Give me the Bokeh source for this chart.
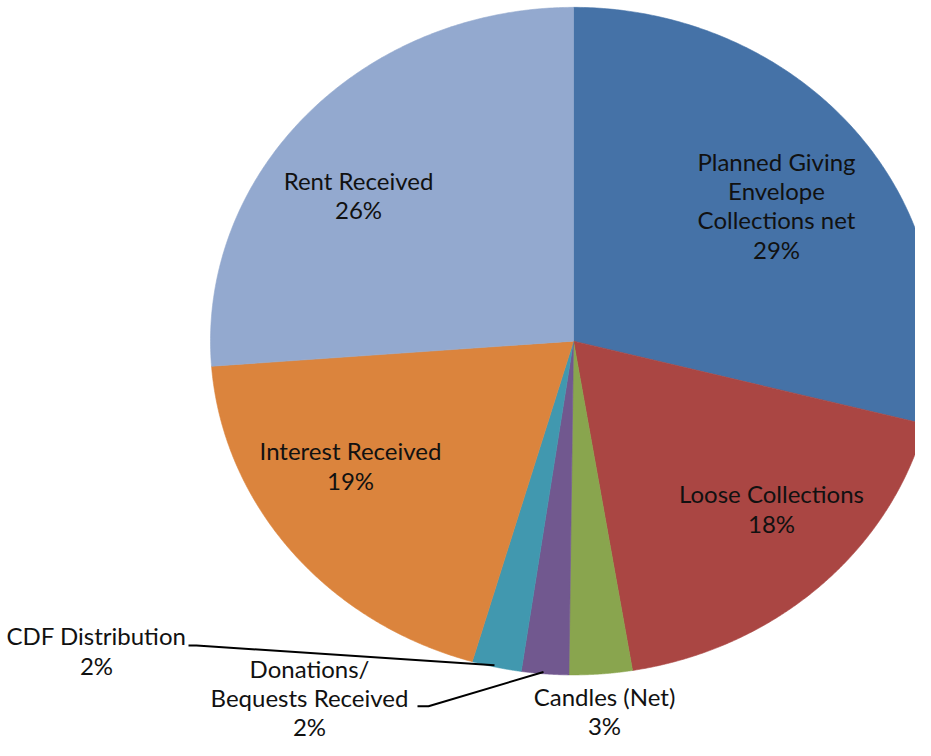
import numpy as np
from bokeh.plotting import figure
from bokeh.models import Range1d, ColumnDataSource
from bokeh.core.properties import value
from bokeh.embed import file_html
from bokeh.resources import INLINE

# ---------------- data ----------------
categories = [
    "Planned Giving Envelope Collections net",
    "Loose Collections",
    "Candles (Net)",
    "Donations/ Bequests Received",
    "CDF Distribution",
    "Interest Received",
    "Rent Received",
]
shares = [29.0, 18.4, 2.8, 2.1, 2.2, 19.3, 26.2]
label_lines = [
    ["Planned Giving", "Envelope", "Collections net"],
    ["Loose Collections"],
    ["Candles (Net)"],
    ["Donations/", "Bequests Received"],
    ["CDF Distribution"],
    ["Interest Received"],
    ["Rent Received"],
]
colors = ["#4572A7", "#AA4643", "#89A54E", "#71588F", "#4198AF", "#DB843D", "#93A9CF"]

# ---------------- layout ----------------
CX, CY, RX, RY = 573, 348, 363, 341
LINE_H = 30
TEXT_DY = -9
# (center x, baseline of first line) for each label
label_pos = [(776, 173), (771, 513), (604, 720), (309, 691), (96, 658), (350, 469), (358, 193)]
# leader lines for outside labels
leaders = {
    3: ([417, 428, 543], [721, 721, 686]),
    4: ([188, 196, 494], [659, 659, 679]),
}
FONT = "Lato"
FONT_SIZE = "24px"

W, H = 915, 740
p = figure(width=W, height=H, output_backend="svg", toolbar_location=None,
           x_range=Range1d(0, W), y_range=Range1d(756, 0),
           min_border=0)
p.axis.visible = False
p.grid.visible = False
p.outline_line_color = None
p.background_fill_color = "white"
p.border_fill_color = "white"

total = float(sum(shares))
fracs = np.cumsum([0.0] + [s / total for s in shares])
xs, ys = [], []
for i in range(len(shares)):
    t = np.linspace(fracs[i], fracs[i + 1], 200) * 2 * np.pi
    xs.append([CX] + list(CX + RX * np.sin(t)) + [CX])
    ys.append([CY] + list(CY - RY * np.cos(t)) + [CY])

src = ColumnDataSource(dict(xs=xs, ys=ys, color=colors, cat=categories))
p.patches("xs", "ys", source=src, fill_color="color", line_color="color", line_width=0.6)

# leader lines
lx = [leaders[k][0] for k in leaders]
ly = [leaders[k][1] for k in leaders]
p.multi_line(lx, ly, line_color="black", line_width=2)

# labels
tx, ty, tt = [], [], []
for i, lines in enumerate(label_lines):
    pct = f"{round(shares[i] / total * 100)}%"
    allines = lines + [pct]
    x0, y0 = label_pos[i]
    for j, ln in enumerate(allines):
        tx.append(x0)
        ty.append(y0 + TEXT_DY + j * LINE_H)
        tt.append(ln)

p.text(x=tx, y=ty, text=tt, text_font=value(FONT), text_font_size=FONT_SIZE,
       text_align="center", text_baseline="alphabetic", text_color="#111111")

open("out.html", "w").write(file_html(p, INLINE))
